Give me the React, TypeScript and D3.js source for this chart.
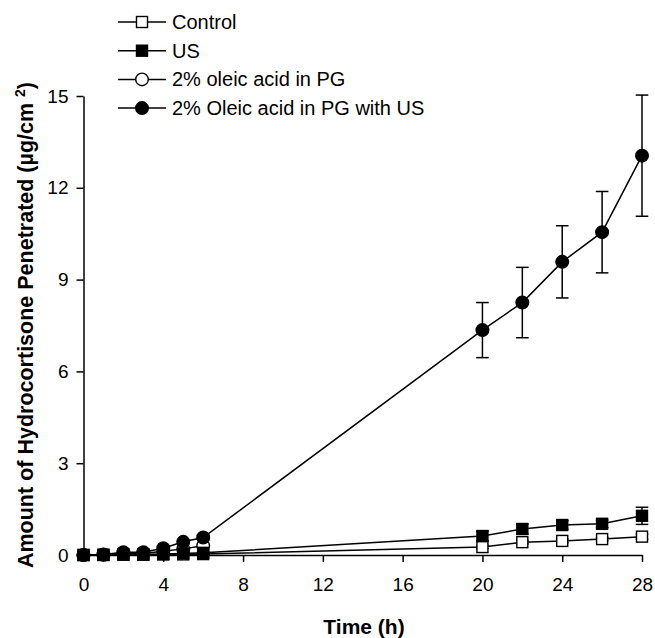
import React, { useEffect, useRef } from "react";
import * as d3 from "d3";

// Sampling times (h)
const timesFull = [0, 1, 2, 3, 4, 5, 6, 20, 22, 24, 26, 28];
const timesEarly = [0, 1, 2, 3, 4, 5, 6];

// Cumulative amount penetrated (µg/cm²) with SD
const controlMean = [0, 0, 0.01, 0.01, 0.02, 0.02, 0.03, 0.26, 0.42, 0.46, 0.52, 0.6];
const controlSd = [0, 0, 0, 0, 0.01, 0.01, 0.01, 0.05, 0.06, 0.06, 0.06, 0.08];

const usMean = [0, 0.01, 0.02, 0.02, 0.03, 0.05, 0.07, 0.62, 0.85, 0.98, 1.02, 1.28];
const usSd = [0, 0, 0.01, 0.01, 0.01, 0.02, 0.02, 0.15, 0.16, 0.14, 0.12, 0.28];

const oleicMean = [0, 0.01, 0.05, 0.05, 0.12, 0.2, 0.3];
const oleicSd = [0, 0, 0.01, 0.01, 0.02, 0.03, 0.04];

const oleicUsMean = [0, 0.02, 0.09, 0.09, 0.22, 0.43, 0.57, 7.35, 8.25, 9.58, 10.55, 13.05];
const oleicUsSd = [0, 0, 0.02, 0.02, 0.04, 0.06, 0.08, 0.9, 1.15, 1.18, 1.33, 1.98];

const xTicks = [0, 4, 8, 12, 16, 20, 24, 28];
const yTicks = [0, 3, 6, 9, 12, 15];

const legendLabels = ["Control", "US", "2% oleic acid in PG", "2% Oleic acid in PG with US"];

type Marker = "square" | "circle";
interface Series {
  name: string;
  t: number[];
  mean: number[];
  sd: number[];
  marker: Marker;
  fill: string;
}

const series: Series[] = [
  { name: legendLabels[2], t: timesEarly, mean: oleicMean, sd: oleicSd, marker: "circle", fill: "#fff" },
  { name: legendLabels[0], t: timesFull, mean: controlMean, sd: controlSd, marker: "square", fill: "#fff" },
  { name: legendLabels[1], t: timesFull, mean: usMean, sd: usSd, marker: "square", fill: "#000" },
  { name: legendLabels[3], t: timesFull, mean: oleicUsMean, sd: oleicUsSd, marker: "circle", fill: "#000" },
];

const legendOrder = [1, 2, 0, 3];

const W = 655;
const H = 638;
const FONT = "'Liberation Sans', Arial, sans-serif";

export default function App() {
  const gx = useRef<SVGGElement>(null);
  const gy = useRef<SVGGElement>(null);

  const x = d3.scaleLinear().domain([0, 28]).range([83.5, 642]);
  const y = d3.scaleLinear().domain([0, 15]).range([555, 96]);

  useEffect(() => {
    if (gx.current) {
      const ax = d3.axisBottom(x).tickValues(xTicks).tickSize(7).tickSizeOuter(0).tickPadding(16);
      const s = d3.select(gx.current).call(ax);
      s.selectAll("text").attr("font-size", 19).attr("font-family", FONT).attr("fill", "#000");
      s.selectAll("line").attr("stroke", "#000").attr("stroke-width", 1.5);
      s.select(".domain").attr("stroke", "#000").attr("stroke-width", 1.5);
    }
    if (gy.current) {
      const ay = d3.axisLeft(y).tickValues(yTicks).tickSize(7).tickSizeOuter(0).tickPadding(8);
      const s = d3.select(gy.current).call(ay);
      s.selectAll("text").attr("font-size", 19).attr("font-family", FONT).attr("fill", "#000");
      s.selectAll("line").attr("stroke", "#000").attr("stroke-width", 1.5);
      s.select(".domain").attr("stroke", "#000").attr("stroke-width", 1.5);
    }
  }, []);

  const line = d3
    .line<[number, number]>()
    .x((d) => x(d[0]))
    .y((d) => y(d[1]));

  const drawMarker = (m: Marker, fill: string, cx: number, cy: number, key: string) =>
    m === "square" ? (
      <rect key={key} x={cx - 5.5} y={cy - 5.5} width={11} height={11} fill={fill} stroke="#000" strokeWidth={1.4} />
    ) : (
      <circle key={key} cx={cx} cy={cy} r={6.3} fill={fill} stroke="#000" strokeWidth={1.4} />
    );

  const cap = 6.3;

  return (
    <svg
      width={W}
      height={H}
      style={{ position: "absolute", left: 0, top: 0, background: "#fff" }}
    >
      <g ref={gx} transform={`translate(0,${y(0)})`} />
      <g ref={gy} transform={`translate(${x(0)},0)`} />

      {series.map((s, si) => {
        const pts = s.t.map((t, i) => [t, s.mean[i]] as [number, number]);
        return (
          <g key={s.name}>
            {s.t.map((t, i) => {
              const e = s.sd[i];
              if (e <= 0) return null;
              const cx = x(t);
              const y1 = y(s.mean[i] + e);
              const y2 = y(s.mean[i] - e);
              return (
                <g key={`e${si}-${i}`} stroke="#000" strokeWidth={1.5}>
                  <line x1={cx} x2={cx} y1={y1} y2={y2} />
                  <line x1={cx - cap} x2={cx + cap} y1={y1} y2={y1} />
                  <line x1={cx - cap} x2={cx + cap} y1={y2} y2={y2} />
                </g>
              );
            })}
            <path d={line(pts) || ""} fill="none" stroke="#000" strokeWidth={1.5} />
            {pts.map((p, i) => drawMarker(s.marker, s.fill, x(p[0]), y(p[1]), `m${si}-${i}`))}
          </g>
        );
      })}

      {/* Legend */}
      {legendOrder.map((si, row) => {
        const s = series[si];
        const cy = 22 + row * 28.7;
        return (
          <g key={`lg${row}`}>
            <line x1={118} x2={166} y1={cy} y2={cy} stroke="#000" strokeWidth={1.5} />
            {drawMarker(s.marker, s.fill, 142, cy, `lm${row}`)}
            <text x={172} y={cy + 7} fontSize={20} fontFamily={FONT} fill="#000">
              {s.name}
            </text>
          </g>
        );
      })}

      {/* Axis titles */}
      <text
        x={364}
        y={634}
        textAnchor="middle"
        fontSize={21}
        fontWeight="bold"
        fontFamily={FONT}
        fill="#000"
      >
        Time (h)
      </text>
      <text
        transform={`translate(33,325) rotate(-90)`}
        textAnchor="middle"
        fontSize={21.5}
        fontWeight="bold"
        fontFamily={FONT}
        fill="#000"
      >
        Amount of Hydrocortisone Penetrated (µg/cm{" "}
        <tspan fontSize={14} dy={-8}>2</tspan>
        <tspan dy={8}>)</tspan>
      </text>
    </svg>
  );
}
